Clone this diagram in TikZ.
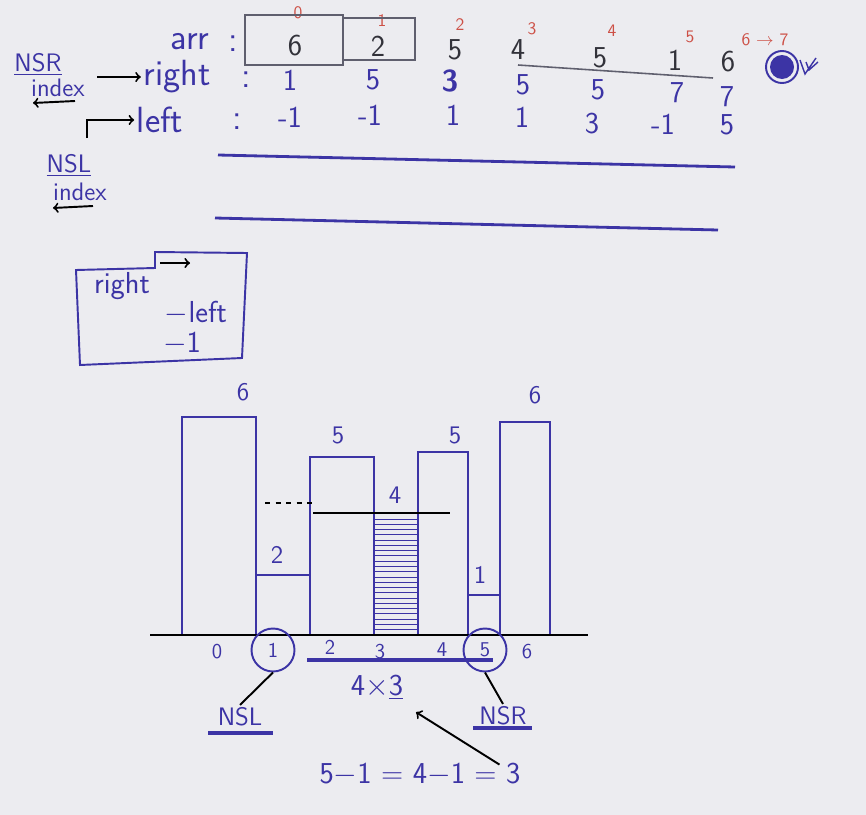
\documentclass[tikz,border=0pt]{standalone}
\usetikzlibrary{positioning,patterns,calc}
\definecolor{ink}{RGB}{60,52,165}
\definecolor{darkink}{RGB}{50,50,58}
\definecolor{redink}{RGB}{205,80,70}
\definecolor{pencil}{RGB}{95,95,110}
\definecolor{board}{RGB}{236,236,240}

\begin{document}
\begin{tikzpicture}[x=0.02cm,y=-0.02cm,line width=1.1pt,
    every node/.style={text=ink,inner sep=1pt},
    lbl/.style={font=\sffamily\huge},
    val/.style={font=\sffamily\LARGE,inner sep=0pt},
    idxnum/.style={text=redink,font=\sffamily\normalsize},
    note/.style={font=\sffamily\Large},
    boxtxt/.style={font=\sffamily\LARGE,inner sep=0pt},
    hlbl/.style={font=\sffamily\Large},
    posnum/.style={font=\sffamily\large},
    ring/.style={draw=ink,circle,minimum size=0.86cm},
    bar/.style={draw=ink},
    ul/.style={draw=ink,line width=2pt}]

  \fill[board] (0,0) rectangle (866,815);

  % table: arr, right, left
  \node[lbl] (arr)  at (190,42)  {arr};
  \node[lbl] (acol) at (233,44)  {:};
  \node[lbl] (rlbl) at (177,77)  {right};
  \node[lbl] (rcol) at (246,80)  {:};
  \node[lbl] (llbl) at (160,120) {left};
  \node[lbl] (lcol) at (237,122) {:};
  \node[note] (nsr)   at (38,64)  {\underline{NSR}};
  \node[note] (nsrix) at (58,88)  {index};
  \node[note] (nsl)   at (69,165) {\underline{NSL}};
  \node[note] (nslix) at (80,192) {index};
  \coordinate (nsrtip) at (97,77);
  \coordinate (hook) at (87,138);
  \draw[->] (nsrtip) -- (rlbl.west);
  \draw[->] (hook) |- (llbl.west);
  \draw[<-] (33,103) -- (75,101);
  \draw[<-] (53,208) -- (93,206);

  \foreach \v/\x/\y [count=\i from 0] in {0/298/13,1/382/21,2/460/25,3/532/29,4/612/31,5/690/37}
    \node[idxnum] (n\i) at (\x,\y) {\v};
  \node[idxnum] (n6) at (765,40) {6 $\to$ 7};

  \foreach \v/\x/\y [count=\i from 0] in {6/295/46,2/378/46,5/455/50,4/518/50,5/600/58,1/675/60,6/728/62}
    \node[val,text=darkink] (a\i) at (\x,\y) {\v};
  \foreach \v/\x/\y [count=\i from 0] in {1/290/80,5/373/80,\textbf{3}/450/81,5/523/85,5/598/90,7/677/93,7/727/97}
    \node[val] (r\i) at (\x,\y) {\v};
  \foreach \v/\x/\y [count=\i from 0] in {-1/290/117,-1/370/115,1/453/115,1/522/117,3/592/124,-1/663/124,5/727/125}
    \node[val] (l\i) at (\x,\y) {\v};

  % box round 6 and 2, strike over 4 5 1
  \draw[pencil,line width=0.8pt] (245,15) rectangle (343,65);
  \draw[pencil,line width=0.8pt] (343,18) rectangle (415,60);
  \draw[pencil,line width=0.9pt] (518,65) -- (713,78);

  % done mark
  \fill[ink] (782,67) circle (12);
  \draw[ink] (782,67) circle (16);
  \draw[ink,line width=0.8pt] (800,60) -- (805,74) -- (816,58)
    (806,62) -- (809,70) -- (818,62);

  % blank rows
  \draw[ink,line width=1.6pt] (218,155) -- (735,167);
  \draw[ink,line width=1.6pt] (215,218) -- (718,230);

  % formula box
  \draw[ink] (155,268) -- (155,252) -- (247,253) -- (242,358) -- (80,365) -- (76,270) -- cycle;
  \draw[->] (160,263) -- (190,263);
  \node[boxtxt] (fr) at (122,286) {right};
  \node[boxtxt] (fl) at (196,313) {$-$left};
  \node[boxtxt] (fm) at (182,344) {$-$1};

  % histogram
  \draw[bar] (182,635) rectangle (256,417);
  \draw[bar] (256,635) rectangle (310,575);
  \draw[bar] (310,635) rectangle (374,457);
  \draw[bar,pattern=horizontal lines,pattern color=ink] (374,635) rectangle (418,513);
  \draw[bar] (418,635) rectangle (468,452);
  \draw[bar] (468,635) rectangle (500,595);
  \draw[bar] (500,635) rectangle (550,422);
  \draw[dashed] (265,503) -- (312,503);
  \draw (313,513) -- (450,513);
  \draw[line width=1.6pt] (150,635) -- (588,635);

  \foreach \v/\x/\y [count=\i from 0] in {6/243/392,2/277/555,5/338/435,4/395/495,5/455/435,1/480/575,6/535/395}
    \node[hlbl] (h\i) at (\x,\y) {\v};
  \foreach \v/\x/\y [count=\i from 0] in {0/217/652,1/273/650,2/330/647,3/380/652,4/442/650,5/485/650,6/527/652}
    \node[posnum] (p\i) at (\x,\y) {\v};
  \node[ring] (c1) at (p1) {};
  \node[ring] (c5) at (p5) {};
  \draw[ul] (307,660) -- (493,660);

  \node[val] (prod) at (377,687) {4$\times$\underline{3}};
  \node[note] (nslb) at (240,717) {NSL};
  \node[note] (nsrb) at (503,716) {NSR};
  \draw[ul] (208,733) -- (273,733);
  \draw[ul] (473,728) -- (532,728);
  \draw (c1.south) -- (nslb.north);
  \draw (c5.south) -- (nsrb.north);
  \node[val] (eq) at (420,775) {5$-$1 = 4$-$1 = 3};
  \draw[->] ($(eq.north east)+(-22,2)$) -- ($(prod.south east)+(12,12)$);
\end{tikzpicture}
\end{document}
